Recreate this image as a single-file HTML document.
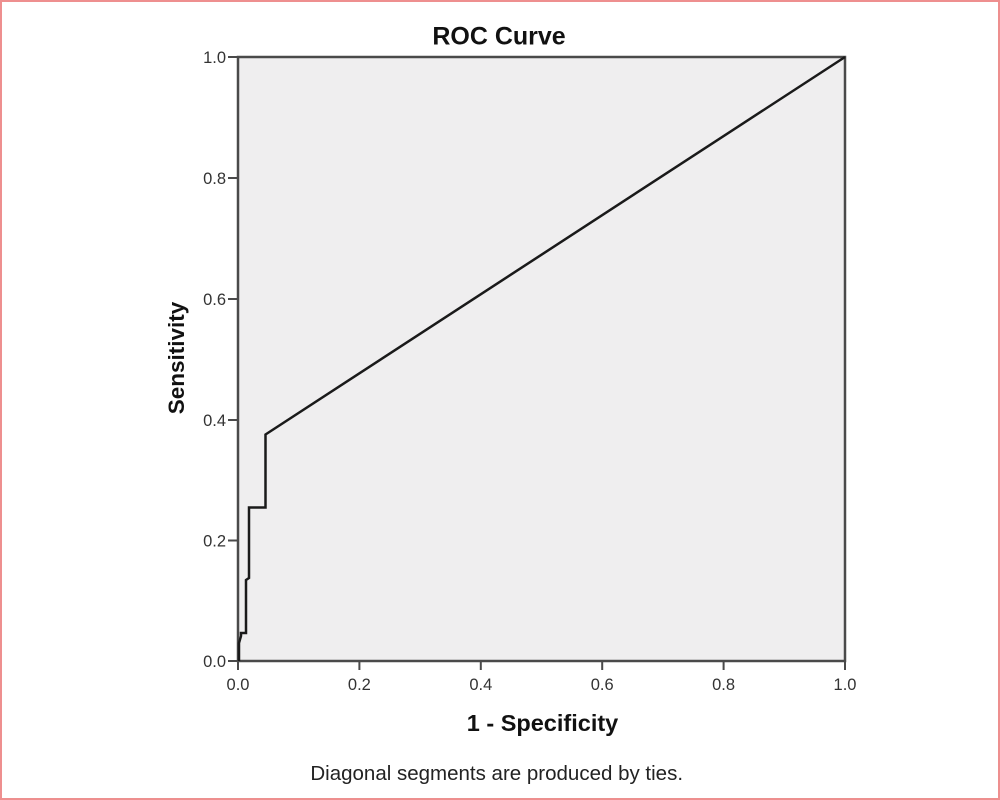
<!DOCTYPE html>
<html><head><meta charset="utf-8"><style>
html,body{margin:0;padding:0;background:#fff;}
svg{display:block;}
</style></head><body>
<svg width="1000" height="800" viewBox="0 0 1000 800" xmlns="http://www.w3.org/2000/svg" font-family="'Liberation Sans', Arial, sans-serif">
<rect x="0" y="0" width="1000" height="800" fill="#fff"/>
<rect x="1" y="1" width="998" height="798" fill="none" stroke="#ee8f8f" stroke-width="2"/>
<rect x="238" y="57" width="607" height="604" fill="#efeeef"/>
<text x="499" y="44.3" font-size="25" font-weight="bold" text-anchor="middle" fill="#111">ROC Curve</text>
<g stroke="#4a4a4a" stroke-width="2.5" fill="none">
<rect x="238" y="57" width="607" height="604"/>
</g>
<g stroke="#4a4a4a" stroke-width="2">
<line x1="228" y1="57" x2="238" y2="57"/>
<line x1="228" y1="178" x2="238" y2="178"/>
<line x1="228" y1="299" x2="238" y2="299"/>
<line x1="228" y1="420" x2="238" y2="420"/>
<line x1="228" y1="540.5" x2="238" y2="540.5"/>
<line x1="228" y1="661" x2="238" y2="661"/>
<line x1="238" y1="661" x2="238" y2="670"/>
<line x1="359.4" y1="661" x2="359.4" y2="670"/>
<line x1="480.8" y1="661" x2="480.8" y2="670"/>
<line x1="602.2" y1="661" x2="602.2" y2="670"/>
<line x1="723.6" y1="661" x2="723.6" y2="670"/>
<line x1="845" y1="661" x2="845" y2="670"/>
</g>
<g font-size="16.5" fill="#333" text-anchor="end">
<text x="226" y="62.8">1.0</text>
<text x="226" y="183.8">0.8</text>
<text x="226" y="304.8">0.6</text>
<text x="226" y="425.8">0.4</text>
<text x="226" y="546.3">0.2</text>
<text x="226" y="666.8">0.0</text>
</g>
<g font-size="16.5" fill="#333" text-anchor="middle">
<text x="238" y="690">0.0</text>
<text x="359.4" y="690">0.2</text>
<text x="480.8" y="690">0.4</text>
<text x="602.2" y="690">0.6</text>
<text x="723.6" y="690">0.8</text>
<text x="845" y="690">1.0</text>
</g>
<polyline points="239,661 239,643 241,636 241,633 246,633 246,580 249,578 249,507.5 265.5,507.5 265.5,434.5 845,57" fill="none" stroke="#1a1a1a" stroke-width="2.5" stroke-linejoin="miter"/>
<text x="542.5" y="731" font-size="23.5" font-weight="bold" text-anchor="middle" fill="#111">1 - Specificity</text>
<text transform="translate(184,358) rotate(-90)" x="0" y="0" font-size="22.5" font-weight="bold" text-anchor="middle" fill="#111">Sensitivity</text>
<text x="496.7" y="780" font-size="20.5" text-anchor="middle" fill="#222">Diagonal segments are produced by ties.</text>
</svg>
</body></html>
